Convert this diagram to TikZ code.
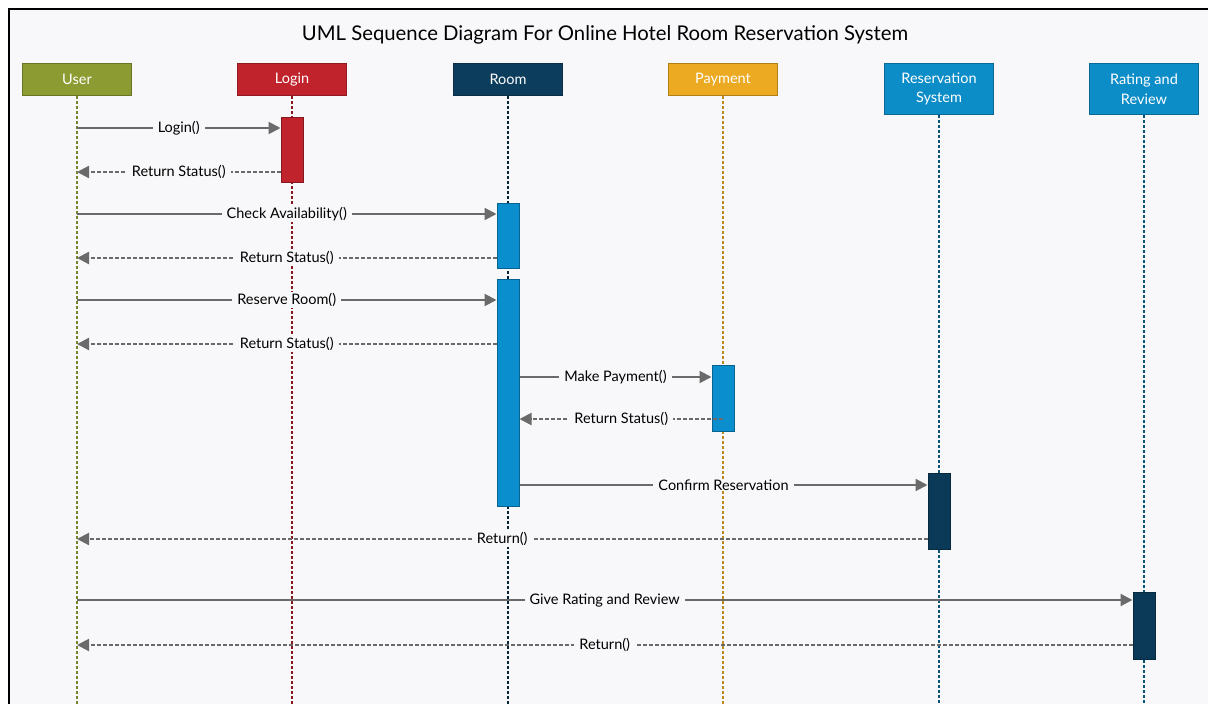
\documentclass[tikz,border=0pt]{standalone}
\usepackage{fontspec}
\setmainfont{Lato}
\usetikzlibrary{arrows.meta}
\definecolor{bgpanel}{HTML}{F8F8FA}
\definecolor{msggray}{HTML}{6A6A6A}
\definecolor{olivehead}{HTML}{8C9C32}
\definecolor{redhead}{HTML}{C1232D}
\definecolor{navyhead}{HTML}{0C3D5C}
\definecolor{amberhead}{HTML}{EBAA22}
\definecolor{bluehead}{HTML}{0D8DC8}
\definecolor{actblue}{HTML}{0A8ECD}
\definecolor{actnavy}{HTML}{0B3A58}
\tikzset{
  head/.style={fill=#1, draw=#1!75!black, line width=1.2pt, text=white,
    minimum width=109pt, inner sep=2pt, align=center, anchor=north,
    font=\fontsize{14.5}{19.5}\selectfont},
  actbar/.style={fill=#1, draw=#1!70!black, line width=1pt,
    minimum width=22pt, inner sep=0pt},
  lifeline/.style={draw=#1, line width=1.5pt, dash pattern=on 3pt off 2pt},
  msg/.style={draw=msggray, line width=2.1pt, -{Triangle[length=12pt,width=12pt]}},
  reply/.style={msg, dash pattern=on 4pt off 2pt},
  lbl/.style={fill=bgpanel, inner xsep=5pt, inner ysep=1pt,
    font=\fontsize{14.5}{16}\selectfont, text=black}
}
\begin{document}
\begin{tikzpicture}[x=1pt, y=-1pt]
\useasboundingbox (0,0) rectangle (1208,704);
\clip (0,0) rectangle (1208,704);
\draw[line width=2.2pt, fill=bgpanel] (9,9) rectangle (1230,730);
\node[font=\fontsize{20.3}{24}\selectfont] (title) at (605,35) {UML Sequence Diagram For Online Hotel Room Reservation System};

% participants
\node[head=olivehead, minimum height=32pt] (user) at (77,63) {User};
\node[head=redhead, minimum height=32pt] (login) at (292,63) {Login};
\node[head=navyhead, minimum height=32pt] (room) at (508,63) {Room};
\node[head=amberhead, minimum height=32pt] (payment) at (723,63) {Payment};
\node[head=bluehead, minimum height=51pt] (ressys) at (939,63) {Reservation\\System};
\node[head=bluehead, minimum height=51pt] (rating) at (1144,63) {Rating and\\Review};

% lifelines
\coordinate (bottom) at (0,706);
\draw[lifeline=olivehead!85!black] (user.south) -- (user |- bottom);
\draw[lifeline=redhead!70!black] (login.south) -- (login |- bottom);
\draw[lifeline=navyhead!60!black] (room.south) -- (room |- bottom);
\draw[lifeline=amberhead!80!black] (payment.south) -- (payment |- bottom);
\draw[lifeline=bluehead!60!black] (ressys.south) -- (ressys |- bottom);
\draw[lifeline=bluehead!60!black] (rating.south) -- (rating |- bottom);

% activation bars
\node[actbar=redhead, minimum height=65pt] (actLogin) at (292,149.5) {};
\node[actbar=actblue, minimum height=65pt] (actRoomA) at (508,235.5) {};
\node[actbar=actblue, minimum height=227pt] (actRoomB) at (508,392.5) {};
\node[actbar=actblue, minimum height=66pt] (actPay) at (723,398) {};
\node[actbar=actnavy, minimum height=76pt] (actRes) at (939,511) {};
\node[actbar=actnavy, minimum height=67pt] (actRate) at (1144,625.5) {};

% messages
\coordinate (m1) at (0,128);
\coordinate (m2) at (0,172);
\coordinate (m3) at (0,214);
\coordinate (m4) at (0,258);
\coordinate (m5) at (0,300);
\coordinate (m6) at (0,344);
\coordinate (m7) at (0,377);
\coordinate (m8) at (0,419);
\coordinate (m9) at (0,485);
\coordinate (m10) at (0,539);
\coordinate (m11) at (0,600);
\coordinate (m12) at (0,645);
\draw[msg] (user |- m1) -- (actLogin.west |- m1) node[midway, lbl] {Login()};
\draw[reply] (actLogin.west |- m2) -- (user |- m2) node[midway, lbl] {Return Status()};
\draw[msg] (user |- m3) -- (actRoomA.west |- m3) node[midway, lbl] {Check Availability()};
\draw[reply] (actRoomA.west |- m4) -- (user |- m4) node[midway, lbl] {Return Status()};
\draw[msg] (user |- m5) -- (actRoomB.west |- m5) node[midway, lbl] {Reserve Room()};
\draw[reply] (actRoomB.west |- m6) -- (user |- m6) node[midway, lbl] {Return Status()};
\draw[msg] (actRoomB.east |- m7) -- (actPay.west |- m7) node[midway, lbl] {Make Payment()};
\draw[reply] (actPay.center |- m8) -- (actRoomB.east |- m8) node[midway, lbl] {Return Status()};
\draw[msg] (actRoomB.east |- m9) -- (actRes.west |- m9) node[midway, lbl] {Confirm Reservation};
\draw[reply] (actRes.west |- m10) -- (user |- m10) node[midway, lbl] {Return()};
\draw[msg] (user |- m11) -- (actRate.west |- m11) node[midway, lbl] {Give Rating and Review};
\draw[reply] (actRate.west |- m12) -- (user |- m12) node[midway, lbl] {Return()};
\end{tikzpicture}
\end{document}
